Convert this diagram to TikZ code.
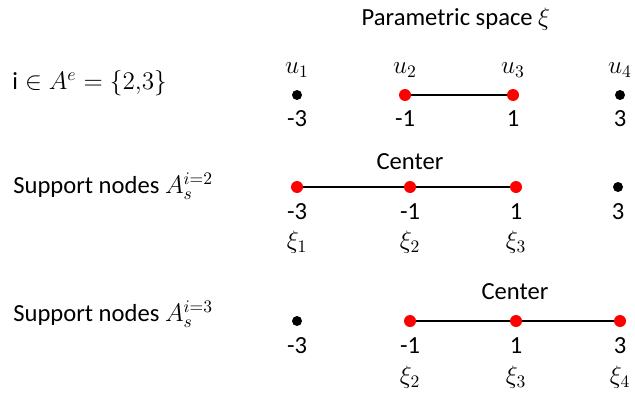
\documentclass[tikz,border=0pt]{standalone}
\usepackage{amsmath}
\usepackage{fontspec}
\setmainfont{Carlito}
\usetikzlibrary{positioning}
\definecolor{nodeRed}{RGB}{255,0,0}

\begin{document}
\begin{tikzpicture}[x=0.02cm,y=-0.02cm,
  font=\fontsize{14}{17}\selectfont,
  rdot/.style={circle,fill=nodeRed,inner sep=0pt,minimum size=0.24cm},
  bdot/.style={circle,fill=black,inner sep=0pt,minimum size=0.2cm},
  seg/.style={line width=1.5pt},
  lbl/.style={anchor=west,inner sep=0pt}
]
  \useasboundingbox (0,0) rectangle (635,392);
  \node (title) at (456,19) {Parametric space $\xi$};

  % element row
  \node[lbl] (elem) at (12,83) {$\mathrm{i}\in A^{e}=\{2{,}3\}$};
  \node[bdot] (a1) at (297,95) {};
  \node[rdot] (a2) at (405,95) {};
  \node[rdot] (a3) at (513,95) {};
  \node[bdot] (a4) at (620,95) {};
  \draw[seg] (a2) -- (a3);
  \node (u1) at (297,70) {$u_1$};
  \node (u2) at (405,70) {$u_2$};
  \node (u3) at (513,70) {$u_3$};
  \node (u4) at (620,70) {$u_4$};
  \node (n1) at (297,119) {-3};
  \node (n2) at (405,119) {-1};
  \node (n3) at (513,119) {1};
  \node (n4) at (620,119) {3};

  % support nodes, i=2
  \node[lbl] (sup2) at (13,186) {Support nodes $A_s^{i=2}$};
  \node[rdot] (b1) at (297,187) {};
  \node[rdot] (b2) at (410,187) {};
  \node[rdot] (b3) at (516,187) {};
  \node[bdot] (b4) at (618,187) {};
  \draw[seg] (b1) -- (b2) -- (b3);
  \node (c2) at (410,162) {Center};
  \node (m1) at (297,212) {-3};
  \node (m2) at (410,212) {-1};
  \node (m3) at (516,212) {1};
  \node (m4) at (618,212) {3};
  \node (x1) at (297,242) {$\xi_1$};
  \node (x2) at (410,242) {$\xi_2$};
  \node (x3) at (516,242) {$\xi_3$};

  % support nodes, i=3
  \node[lbl] (sup3) at (13,314) {Support nodes $A_s^{i=3}$};
  \node[bdot] (d1) at (297,321) {};
  \node[rdot] (d2) at (410,321) {};
  \node[rdot] (d3) at (516,321) {};
  \node[rdot] (d4) at (620,321) {};
  \draw[seg] (d2) -- (d3) -- (d4);
  \node (c3) at (515,292) {Center};
  \node (p1) at (297,346) {-3};
  \node (p2) at (410,346) {-1};
  \node (p3) at (516,346) {1};
  \node (p4) at (620,346) {3};
  \node (y2) at (410,377) {$\xi_2$};
  \node (y3) at (516,377) {$\xi_3$};
  \node (y4) at (620,377) {$\xi_4$};
\end{tikzpicture}
\end{document}
